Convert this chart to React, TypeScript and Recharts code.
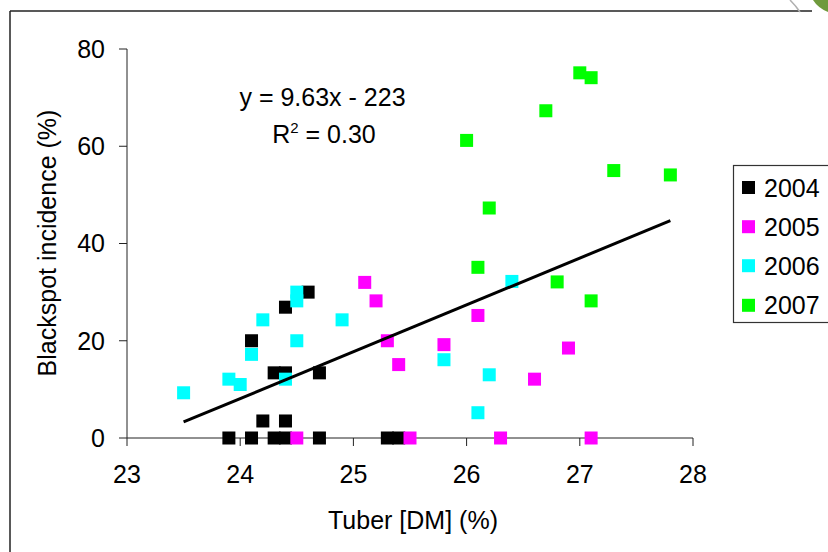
import React from 'react';
import { ScatterChart, Scatter, XAxis, YAxis } from 'recharts';

const years = ['2004', '2005', '2006', '2007'];
const colors = ['#000000', '#FF00FF', '#00FFFF', '#00FF00'];

const xTicks = [23, 24, 25, 26, 27, 28];
const yTicks = [0, 20, 40, 60, 80];

const data2004 = [
  { x: 23.9, y: 0 }, { x: 24.1, y: 0 }, { x: 24.3, y: 0 }, { x: 24.4, y: 0 },
  { x: 24.7, y: 0 }, { x: 25.3, y: 0 }, { x: 25.4, y: 0 },
  { x: 24.2, y: 3.5 }, { x: 24.4, y: 3.5 },
  { x: 24.3, y: 13.4 }, { x: 24.4, y: 13.4 }, { x: 24.7, y: 13.4 },
  { x: 24.1, y: 20 }, { x: 24.4, y: 26.9 }, { x: 24.6, y: 30 },
];

const data2005 = [
  { x: 24.5, y: 0 }, { x: 25.5, y: 0 }, { x: 26.3, y: 0 }, { x: 27.1, y: 0 },
  { x: 25.1, y: 32 }, { x: 25.2, y: 28.2 }, { x: 25.3, y: 20 }, { x: 25.4, y: 15.1 },
  { x: 25.8, y: 19.2 }, { x: 26.1, y: 25.2 }, { x: 26.6, y: 12.1 }, { x: 26.9, y: 18.5 },
];

const data2006 = [
  { x: 23.5, y: 9.3 }, { x: 23.9, y: 12.1 }, { x: 24.0, y: 11 }, { x: 24.1, y: 17.2 },
  { x: 24.2, y: 24.3 }, { x: 24.4, y: 12.1 }, { x: 24.5, y: 30 }, { x: 24.5, y: 28.2 },
  { x: 24.5, y: 20 }, { x: 24.9, y: 24.3 }, { x: 25.8, y: 16.1 }, { x: 26.1, y: 5.2 },
  { x: 26.2, y: 13 }, { x: 26.4, y: 32.2 },
];

const data2007 = [
  { x: 26.0, y: 61.2 }, { x: 26.1, y: 35.1 }, { x: 26.2, y: 47.3 }, { x: 26.7, y: 67.3 },
  { x: 26.8, y: 32.1 }, { x: 27.0, y: 75.1 }, { x: 27.1, y: 74.1 }, { x: 27.1, y: 28.2 },
  { x: 27.3, y: 55.0 }, { x: 27.8, y: 54.1 },
];

const trendLine = [{ x: 23.5, y: 3.3 }, { x: 27.8, y: 44.7 }];

const seriesData = [data2004, data2005, data2006, data2007];

const FONT = '"Liberation Sans", Arial, sans-serif';
const AXIS = '#222222';

const makeSquare = (fill: string) => (props: any) => {
  const { cx, cy } = props;
  if (cx == null || cy == null) return <g />;
  return <rect x={cx - 6.5} y={cy - 6.5} width={13} height={13} fill={fill} />;
};

const noShape = () => <g />;

export default function App() {
  const legendRows = [187.5, 226.7, 265.7, 305.3];
  return (
    <div style={{ position: 'absolute', left: 0, top: 0, width: 828, height: 552, background: '#fff', fontFamily: FONT, overflow: 'hidden' }}>
      <ScatterChart
        width={828}
        height={552}
        margin={{ top: 49, right: 135, bottom: 74, left: 67 }}
        style={{ fontFamily: FONT }}
      >
        <XAxis
          type="number"
          dataKey="x"
          domain={[23, 28]}
          ticks={xTicks}
          height={40}
          tickSize={8}
          tickMargin={19}
          axisLine={{ stroke: AXIS, strokeWidth: 1 }}
          tickLine={{ stroke: AXIS, strokeWidth: 1 }}
          tick={{ fill: '#000', fontSize: 25, fontFamily: FONT }}
        />
        <YAxis
          type="number"
          dataKey="y"
          domain={[0, 80]}
          ticks={yTicks}
          width={60}
          tickSize={8}
          tickMargin={14}
          axisLine={{ stroke: AXIS, strokeWidth: 1 }}
          tickLine={{ stroke: AXIS, strokeWidth: 1 }}
          tick={{ fill: '#000', fontSize: 25, fontFamily: FONT }}
        />
        {seriesData.map((d, i) => (
          <Scatter
            key={years[i]}
            name={years[i]}
            data={d}
            fill={colors[i]}
            shape={makeSquare(colors[i])}
            isAnimationActive={false}
          />
        ))}
        <Scatter
          name="trend"
          data={trendLine}
          line={{ stroke: '#000', strokeWidth: 3 }}
          shape={noShape}
          legendType="none"
          isAnimationActive={false}
        />
      </ScatterChart>
      <svg
        width={828}
        height={552}
        style={{ position: 'absolute', left: 0, top: 0, pointerEvents: 'none' }}
        fontFamily={FONT}
      >
        {/* frame */}
        <line x1={10} y1={11} x2={10} y2={552} stroke={AXIS} strokeWidth={1.5} />
        <line x1={10} y1={11} x2={812} y2={11} stroke={AXIS} strokeWidth={1.5} />
        <path d="M 790 0 Q 796 6 800 12" stroke="#b0b0b0" strokeWidth={1.5} fill="none" />
        <path d="M 813 0 L 828 0 L 828 12 Q 818 8 813 0 Z" fill="#6f9a3c" />
        {/* annotation */}
        <text x={322.5} y={106} textAnchor="middle" fontSize={25} fill="#000">y = 9.63x - 223</text>
        <text x={324} y={143} textAnchor="middle" fontSize={25} fill="#000">
          R<tspan dy={-10} fontSize={15}>2</tspan><tspan dy={10}> = 0.30</tspan>
        </text>
        {/* axis titles */}
        <text transform="translate(56,243) rotate(-90)" textAnchor="middle" fontSize={25} fill="#000">Blackspot incidence (%)</text>
        <text x={413} y={529} textAnchor="middle" fontSize={25} fill="#000">Tuber [DM] (%)</text>
        {/* legend */}
        <rect x={733.5} y={165.5} width={120} height={157} fill="#fff" stroke="#333" strokeWidth={1.2} />
        {years.map((yr, i) => (
          <g key={yr}>
            <rect x={742} y={legendRows[i] - 6.5} width={13} height={13} fill={colors[i]} />
            <text x={764} y={legendRows[i] + 9} fontSize={25} fill="#000">{yr}</text>
          </g>
        ))}
      </svg>
    </div>
  );
}
